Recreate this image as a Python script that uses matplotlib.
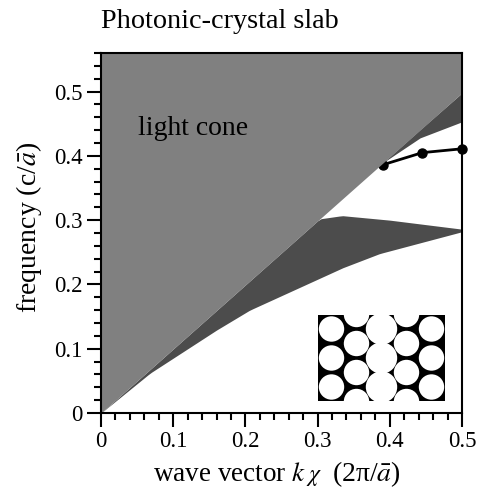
# -*- coding: utf-8 -*-
import matplotlib
matplotlib.use("Agg")
import matplotlib.pyplot as plt
from matplotlib.patches import Circle
import numpy as np

plt.rcParams['font.family'] = ['Liberation Serif', 'DejaVu Serif']
plt.rcParams['mathtext.fontset'] = 'stix'

# light line, the cone is everything above it
cone_x = [0, 0.5]
cone_y = [0, 0.498]

# lower guided band region
low_top_x = [0, 0.303, 0.334, 0.40, 0.5]
low_top_y = [0, 0.302, 0.307, 0.300, 0.286]
low_bot_x = [0, 0.068, 0.16, 0.206, 0.335, 0.386, 0.5]
low_bot_y = [0, 0.062, 0.129, 0.160, 0.226, 0.248, 0.282]

# upper band region
up_x = [0.39, 0.442, 0.5]
up_top = [0.389, 0.441, 0.498]
up_bot = [0.389, 0.428, 0.453]

# guided mode in the gap
mode_x = [0.39, 0.445, 0.5]
mode_y = [0.386, 0.405, 0.411]

# inset lattice: column and row numbers of the holes
big_col = [2]
side_cols = [0, 4]
mid_cols = [1, 3]
rows_a = [0, 1, 2]
rows_b = [-0.5, 0.5, 1.5, 2.5]
col_pitch = 25.0
row_pitch = 29.0
r_small = 12.7
r_big = 15.7

W = 482
H = 488

fig = plt.figure(figsize=(4.82, 4.88), dpi=100)
ax = fig.add_axes([101 / W, 1 - 413 / H, 361 / W, 360 / H])

grid = np.linspace(0, 0.5, 101)
low_t = np.interp(grid, low_top_x, low_top_y)
low_b = np.interp(grid, low_bot_x, low_bot_y)
ax.fill_between(grid, low_b, low_t, color='#4c4c4c', lw=0, zorder=1)
ax.fill_between(up_x, up_bot, up_top, color='#4c4c4c', lw=0, zorder=1)
ax.plot(mode_x, mode_y, color='k', lw=2, marker='o', ms=6.5, clip_on=False, zorder=1.5)
ax.fill_between(cone_x, cone_y, [0.56, 0.56], color='#808080', lw=0, zorder=2)

ax.set_xlim(0, 0.5)
ax.set_ylim(0, 0.56)
ax.set_xticks([0, 0.1, 0.2, 0.3, 0.4, 0.5])
ax.set_xticklabels(['0', '0.1', '0.2', '0.3', '0.4', '0.5'])
ax.set_yticks([0, 0.1, 0.2, 0.3, 0.4, 0.5])
ax.set_yticklabels(['0', '0.1', '0.2', '0.3', '0.4', '0.5'])
ax.set_xticks(np.arange(0, 0.5001, 0.02), minor=True)
ax.set_yticks(np.arange(0, 0.5601, 0.02), minor=True)
ax.tick_params(which='major', length=10, width=1.5, labelsize=16.5, pad=3)
ax.tick_params(which='minor', length=5, width=1.5)
for side in ax.spines:
    ax.spines[side].set_linewidth(1.5)

# x label in pieces, mathtext subscripts come out too small
fig.text(153 / W, 1 - 481 / H, 'wave vector $k$', fontsize=19.5, va='baseline')
fig.text(306 / W, 1 - 481 / H, r'$\chi$', fontsize=17, va='baseline')
fig.text(332 / W, 1 - 481 / H, r'(2π/$\bar{a}$)', fontsize=20, va='baseline')

fig.text(29 / W, 1 - 227 / H, r'frequency (c/$\bar{a}$)', fontsize=20, rotation=90,
         ha='center', va='center')
ax.set_title('Photonic-crystal slab', fontsize=20.3, loc='left', pad=18)
ax.text(0.051, 0.433, 'light cone', fontsize=20, zorder=6)

ins = fig.add_axes([318 / W, 1 - 401 / H, 127 / W, 86 / H])
ins.set_facecolor('k')
ins.set_xlim(-63.5 + 2 * col_pitch, 63.5 + 2 * col_pitch)
ins.set_ylim(-43 + row_pitch, 43 + row_pitch)
ins.set_xticks([])
ins.set_yticks([])
for side in ins.spines:
    ins.spines[side].set_visible(False)
for c in side_cols:
    for r in rows_a:
        ins.add_patch(Circle((c * col_pitch, r * row_pitch), r_small, color='w', lw=0))
for c in mid_cols:
    for r in rows_b:
        ins.add_patch(Circle((c * col_pitch, r * row_pitch), r_small, color='w', lw=0))
for c in big_col:
    for r in rows_a:
        ins.add_patch(Circle((c * col_pitch, r * row_pitch), r_big, color='w', lw=0))

fig.savefig('out.png', dpi=100)
